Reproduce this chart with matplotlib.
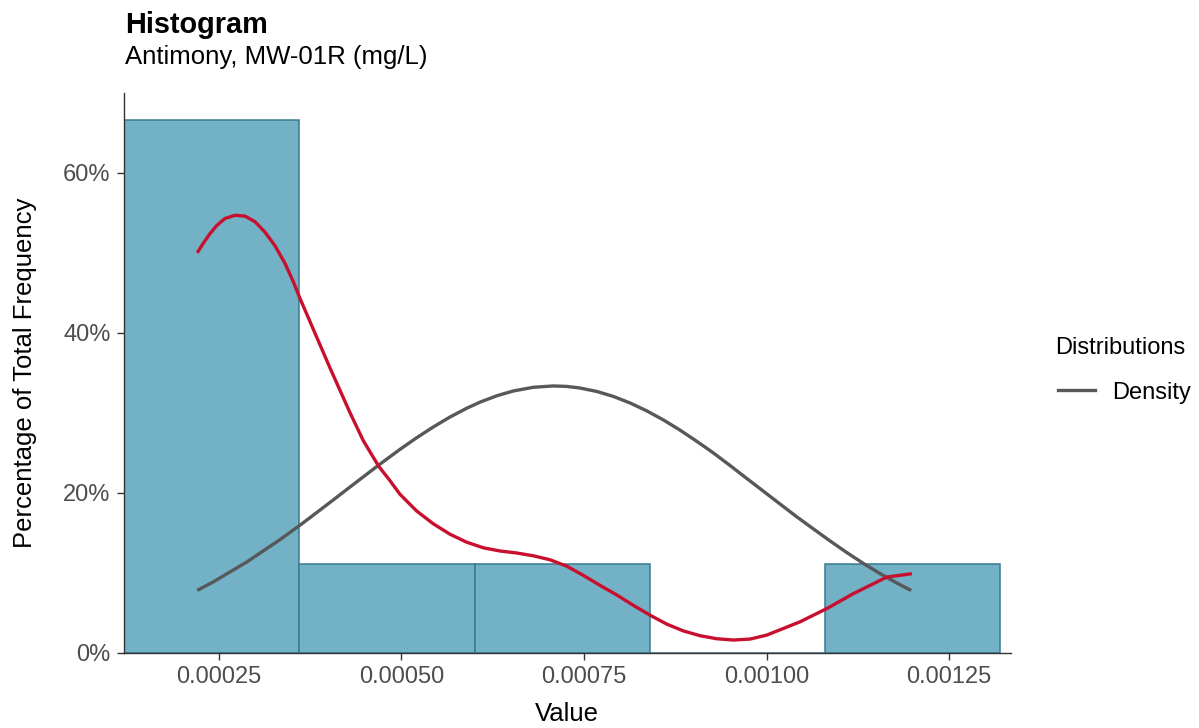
import numpy as np
import matplotlib.pyplot as plt
from matplotlib.lines import Line2D

plt.rcParams['font.family'] = ['Liberation Sans', 'DejaVu Sans']

# Histogram data (bin edges and counts)
bin_edges = [0.00012, 0.00036, 0.00060, 0.00084, 0.00108, 0.00132]
counts = [6, 1, 1, 0, 1]

# Normal density curve (grey), in percent
norm_x = [0.0002203, 0.0002422, 0.0002879, 0.0003336, 0.00036, 0.0003838,
          0.0004066, 0.000429, 0.0004688, 0.000498, 0.0005208, 0.0005436,
          0.0005664, 0.0005893, 0.0006075, 0.0006305, 0.0006532, 0.0006805,
          0.0007079, 0.0007263, 0.0007445, 0.0007674, 0.0007901, 0.000813,
          0.0008359, 0.0008586, 0.0008815, 0.0009044, 0.0009271, 0.00095,
          0.0009729, 0.0009956, 0.0010185, 0.0010414, 0.0010641, 0.001087,
          0.0011099, 0.0011326, 0.0011548, 0.0011784, 0.001198]
norm_y = [7.77, 8.83, 11.31, 14.12, 15.86, 17.5, 19.09, 20.67, 23.45, 25.42,
          26.87, 28.22, 29.46, 30.56, 31.32, 32.12, 32.72, 33.18, 33.35, 33.29,
          33.09, 32.66, 32.04, 31.22, 30.23, 29.1, 27.82, 26.42, 24.97, 23.39,
          21.77, 20.18, 18.57, 16.97, 15.46, 13.95, 12.5, 11.14, 9.9, 8.69,
          7.76]

# Kernel density curve (red), in percent
kde_x = [0.0002203, 0.0002285, 0.0002377, 0.0002468, 0.0002582, 0.0002719,
         0.0002856, 0.0002993, 0.000313, 0.0003267, 0.0003404, 0.0003518,
         0.000361, 0.0003747, 0.0003884, 0.0004021, 0.0004158, 0.0004295,
         0.0004477, 0.0004688, 0.0004842, 0.0004979, 0.0005208, 0.0005436,
         0.0005664, 0.0005893, 0.0006121, 0.0006349, 0.0006578, 0.0006805,
         0.0007034, 0.0007263, 0.000749, 0.0007719, 0.0007948, 0.0008175,
         0.0008404, 0.0008633, 0.000886, 0.0009089, 0.0009318, 0.0009545,
         0.0009774, 0.0010003, 0.0010458, 0.0010825, 0.0011189, 0.0011647,
         0.001199]
kde_y = [50.0, 51.2, 52.4, 53.4, 54.3, 54.7, 54.6, 53.9, 52.6, 50.9, 48.7,
         46.4, 44.3, 41.4, 38.5, 35.6, 32.8, 30.0, 26.5, 23.3, 21.5, 19.8,
         17.7, 16.1, 14.8, 13.8, 13.1, 12.7, 12.45, 12.1, 11.6, 10.8, 9.65,
         8.4, 7.2, 5.9, 4.67, 3.55, 2.7, 2.1, 1.72, 1.56, 1.68, 2.18, 3.84,
         5.5, 7.37, 9.44, 9.86]

pct = np.array(counts) / np.sum(counts) * 100
binw = np.diff(bin_edges)

W, H = 1199, 728
fig = plt.figure(figsize=(W / 100, H / 100), dpi=100)
ax = fig.add_axes([124 / W, 1 - 652.5 / H, (1010.5 - 124) / W, (652.5 - 93) / H])

ax.bar(bin_edges[:-1], pct, width=binw, align='edge',
       color='#72B1C6', edgecolor='#3A7A8F', linewidth=1.1, zorder=1)
ax.plot(norm_x, norm_y, color='#56585A', linewidth=2.4, zorder=3,
        solid_capstyle='butt', solid_joinstyle='round')
ax.plot(kde_x, kde_y, color='#C8102E', linewidth=2.4, zorder=4,
        solid_capstyle='butt', solid_joinstyle='round')

ax.set_xlim(0.00012, 0.001334)
ax.set_ylim(0, 70)
ax.set_xticks([0.00025, 0.0005, 0.00075, 0.001, 0.00125])
ax.set_xticklabels(['0.00025', '0.00050', '0.00075', '0.00100', '0.00125'])
ax.set_yticks([0, 20, 40, 60])
ax.set_yticklabels(['0%', '20%', '40%', '60%'])

for s in ['top', 'right']:
    ax.spines[s].set_visible(False)
for s in ['left', 'bottom']:
    ax.spines[s].set_color('#333333')
    ax.spines[s].set_linewidth(1.0)
ax.tick_params(colors='#333333', labelcolor='#4D4D4D', labelsize=17,
               length=4.8, width=1.0, pad=4.8)

# Axis titles
fig.text(((124 + 1010.5) / 2) / W, 1 - 721 / H, 'Value', fontsize=18.5,
         ha='center', va='baseline')
fig.text(32.5 / W, 1 - 372.7 / H, 'Percentage of Total Frequency',
         fontsize=18.5, rotation=90, rotation_mode='anchor',
         ha='center', va='baseline')

# Title and subtitle
fig.text(125 / W, 1 - 33 / H, 'Histogram', fontsize=20.8,
         fontweight='bold', ha='left', va='baseline')
fig.text(125 / W, 1 - 64 / H, 'Antimony, MW-01R (mg/L)', fontsize=18.5,
         ha='left', va='baseline')

# Legend
fig.text(1055 / W, 1 - 353.5 / H, 'Distributions', fontsize=17,
         ha='left', va='baseline')
fig.add_artist(Line2D([1058.3 / W, 1095 / W], [1 - 390 / H, 1 - 390 / H],
                      color='#56585A', linewidth=2.4, transform=fig.transFigure))
fig.text(1111.7 / W, 1 - 398.5 / H, 'Density', fontsize=17,
         ha='left', va='baseline')

fig.savefig('out.png', dpi=100)
